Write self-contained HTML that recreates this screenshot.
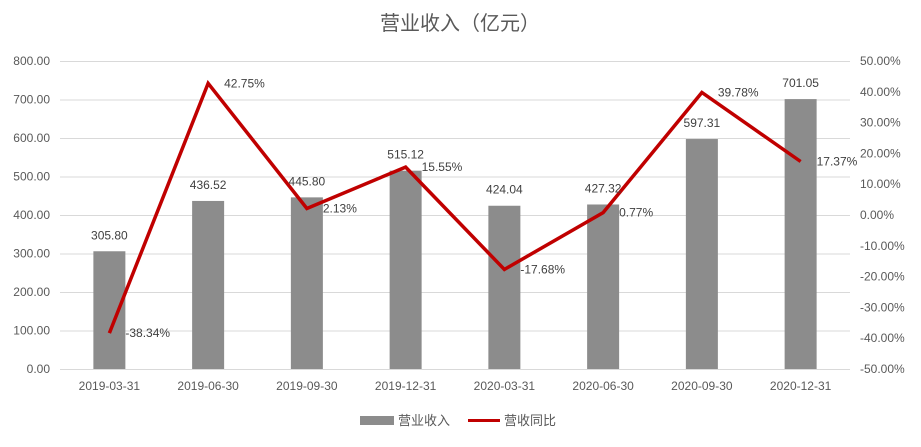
<!DOCTYPE html>
<html><head><meta charset="utf-8"><style>
body{margin:0;background:#fff;font-family:"Liberation Sans","Noto Sans CJK SC",sans-serif}
svg text{font-family:"Liberation Sans","Noto Sans CJK SC",sans-serif}
</style></head><body>
<svg id="c" width="921" height="442" xmlns="http://www.w3.org/2000/svg">
<text x="460" y="30" text-anchor="middle" font-size="20" fill="#595959">营业收入（亿元）</text>
<g id="grid"></g><g id="bars"></g><g id="line"></g><g id="labels"></g>
<g>
<rect x="360" y="416" width="34" height="9" fill="#8c8c8c"/>
<text x="398" y="425" font-size="13" fill="#595959">营业收入</text>
<line x1="468" y1="420.5" x2="500" y2="420.5" stroke="#c00000" stroke-width="3"/>
<text x="504" y="425" font-size="13" fill="#595959">营收同比</text>
</g>
</svg>
<script>
const categories=["2019-03-31","2019-06-30","2019-09-30","2019-12-31","2020-03-31","2020-06-30","2020-09-30","2020-12-31"];
const revenue=[305.80,436.52,445.80,515.12,424.04,427.32,597.31,701.05];
const growth=[-38.34,42.75,2.13,15.55,-17.68,0.77,39.78,17.37];
const leftTicks=[0,100,200,300,400,500,600,700,800];
const rightTicks=[-50,-40,-30,-20,-10,0,10,20,30,40,50];
const L=60,R=850,T=61,B=369;
const ns="http://www.w3.org/2000/svg";
const yL=v=>B-(v/800)*(B-T);
const yR=v=>B-((v+50)/100)*(B-T);
const bw=(R-L)/categories.length;
const xC=i=>L+bw*(i+0.5);
function mk(tag,attrs,parent,txt){const e=document.createElementNS(ns,tag);for(const k in attrs)e.setAttribute(k,attrs[k]);if(txt!==undefined)e.textContent=txt;document.getElementById(parent).appendChild(e);return e;}
leftTicks.forEach(v=>{
 const g=mk('line',{x1:L,x2:R,y1:yL(v)+0.5,y2:yL(v)+0.5,stroke:'#d9d9d9','stroke-width':1},'grid');
 
 
 const t=mk('text',{x:50,y:yL(v)+4,'text-anchor':'end','font-size':12,fill:'#595959'},'grid',v.toFixed(2));
 
 
});
rightTicks.forEach(v=>{
 const t=mk('text',{x:860,y:yR(v)+4,'text-anchor':'start','font-size':12,fill:'#595959'},'grid',v.toFixed(2)+'%');
 
 
});
categories.forEach((c,i)=>{
 const t=mk('text',{x:xC(i),y:390,'text-anchor':'middle','font-size':12,fill:'#595959'},'grid',c);
 
 
 const b=mk('rect',{x:xC(i)-16,y:yL(revenue[i]),width:32,height:B-yL(revenue[i]),fill:'#8c8c8c'},'bars');
 
 
 const bl=mk('text',{x:xC(i),y:yL(revenue[i])-12,'text-anchor':'middle','font-size':12,fill:'#404040'},'labels',revenue[i].toFixed(2));
 
 
 const gl=mk('text',{x:xC(i)+16,y:yR(growth[i])+4,'text-anchor':'start','font-size':12,fill:'#404040'},'labels',growth[i].toFixed(2)+'%');
 
 
});
const pts=growth.map((v,i)=>xC(i)+','+yR(v)).join(' ');
const pl=mk('polyline',{points:pts,fill:'none',stroke:'#c00000','stroke-width':3.5,'stroke-linejoin':'miter'},'line');


</script>
</body></html>
